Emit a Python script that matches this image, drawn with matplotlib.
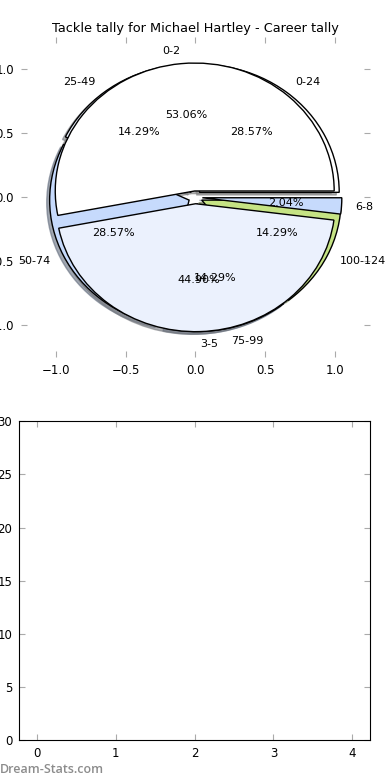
import numpy as np
import matplotlib
matplotlib.use("Agg")
import matplotlib.pyplot as plt

# tackle tally per game, two groupings
game_labels = ["0-2", "3-5", "6-8"]
game_counts = [26, 22, 1]

career_labels = ["0-24", "25-49", "50-74", "75-99", "100-124"]
career_counts = [2, 1, 2, 1, 1]

colors = ["#FFFFFF", "#EBF1FD", "#C6DAFC", "#9DBBEA", "#C5E384"]

title = "Tackle tally for Michael Hartley - Career tally"


def style_ticks(ax):
	ax.tick_params(direction="in", color="#AAAAAA", labelsize=8.5, length=4,
		top=True, right=True, pad=5)


def draw():
	fig = plt.figure(figsize=(3.9, 7.8), dpi=100)
	ax1 = fig.add_axes([0.054, 0.542, 0.894, 0.410])
	ax2 = fig.add_axes([0.049, 0.051, 0.900, 0.409])

	# career pie drawn first, per-game pie laid over it
	shade = {"ox": -0.015, "oy": -0.015, "shade": 0.5, "alpha": 0.6}
	ax1.pie(career_counts, labels=career_labels, colors=colors,
		explode=[0.05] * len(career_counts), autopct="%1.2f%%", shadow=shade,
		textprops={"fontsize": 8}, wedgeprops={"linewidth": 1, "edgecolor": "black"})
	ax1.pie(game_counts, labels=game_labels, colors=colors[:3],
		explode=[0.05] * len(game_counts), autopct="%1.2f%%", shadow=shade,
		textprops={"fontsize": 8}, wedgeprops={"linewidth": 1, "edgecolor": "black"})
	ax1.set_aspect("auto")
	ax1.set_xlim(-1.25, 1.25)
	ax1.set_ylim(-1.25, 1.25)
	ax1.set_xticks([-1.0, -0.5, 0.0, 0.5, 1.0])
	ax1.set_yticks([-1.0, -0.5, 0.0, 0.5, 1.0])
	ax1.set_frame_on(False)
	style_ticks(ax1)
	ax1.set_title(title, fontsize=9.3, pad=4)

	ax2.set_xlim(-0.225, 4.225)
	ax2.set_ylim(0, 30)
	ax2.set_xticks([0, 1, 2, 3, 4])
	ax2.set_yticks([0, 5, 10, 15, 20, 25, 30])
	style_ticks(ax2)

	fig.text(0.0, 0.013, "Dream-Stats.com", fontsize=9, color="#8C8C8C",
		family="Open Sans", fontweight="semibold", ha="left", va="center")

	plt.savefig("out.png", dpi=100)


def main():
	draw()


if __name__ == "__main__":
	main()
